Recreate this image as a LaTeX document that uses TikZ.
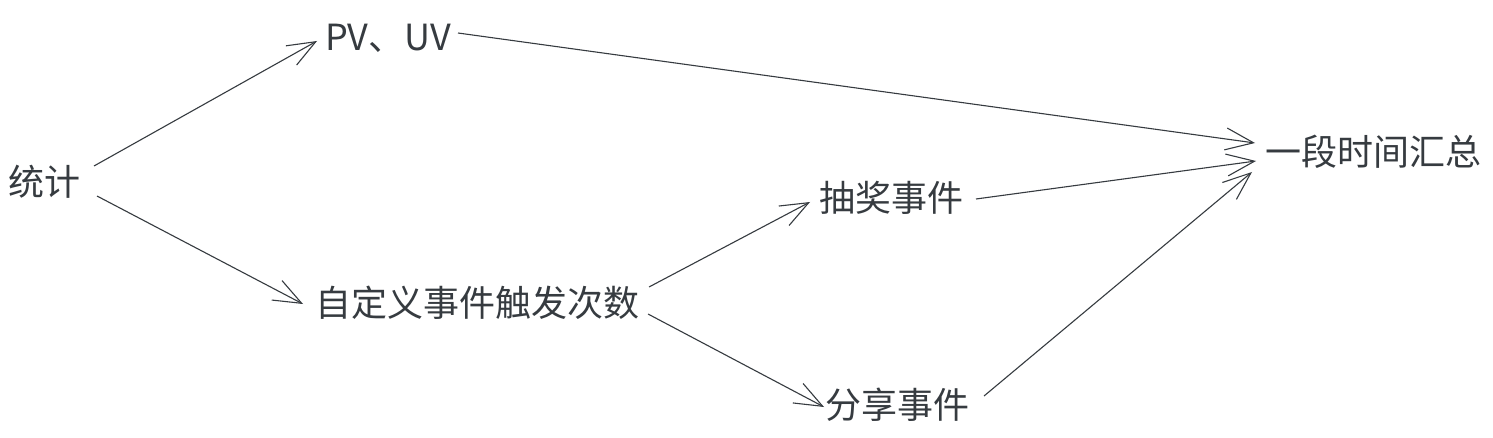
\documentclass[tikz,border=0pt]{standalone}
\usepackage{fontspec}
\setmainfont{Noto Sans CJK SC}
\usetikzlibrary{arrows.meta}
\definecolor{ink}{HTML}{363B40}
\tikzset{
  lbl/.style={text=ink, inner sep=0pt, font=\fontsize{18pt}{20pt}\selectfont},
  arr/.style={draw=ink, line width=0.55pt, -{Straight Barb[length=14pt,width=11pt,line width=0.55pt]}}
}
\begin{document}
\begin{tikzpicture}[x=0.5pt,y=-0.5pt]
\useasboundingbox[fill=white] (0,0) rectangle (1493,438);
\node[lbl] (tj) at (45,182) {统计};
\node[lbl] (pv) at (388,38) {PV、UV};
\node[lbl] (zd) at (477,303) {自定义事件触发次数};
\node[lbl] (cj) at (891,198) {抽奖事件};
\node[lbl] (fx) at (897,405) {分享事件};
\node[lbl] (hz) at (1373,152) {一段时间汇总};
\draw[arr] ([shift={(49,-16)}]tj.center) -- ([shift={(-71,3)}]pv.center);
\draw[arr] ([shift={(52,14)}]tj.center) -- ([shift={(-174,1)}]zd.center);
\draw[arr] ([shift={(70,-5)}]pv.center) -- ([shift={(-118,-9)}]hz.center);
\draw[arr] ([shift={(85,1)}]cj.center) -- ([shift={(-117,9)}]hz.center);
\draw[arr] ([shift={(87,-9)}]fx.center) -- ([shift={(-121,20)}]hz.center);
\draw[arr] ([shift={(172,-16)}]zd.center) -- ([shift={(-81,4)}]cj.center);
\draw[arr] ([shift={(171,11)}]zd.center) -- ([shift={(-73,2)}]fx.center);
\end{tikzpicture}
\end{document}
